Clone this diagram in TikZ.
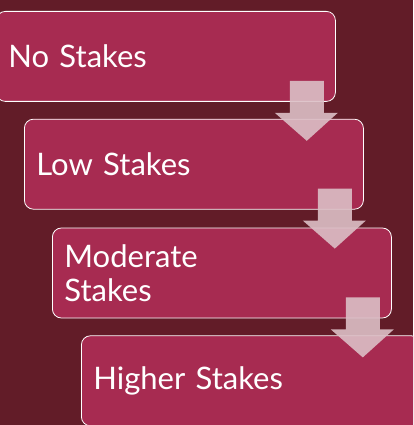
\documentclass[tikz,border=0pt]{standalone}
\usepackage{fontspec}
\setmainfont{Lato}
\usetikzlibrary{positioning}
\definecolor{backcol}{HTML}{621C28}
\definecolor{stakecol}{HTML}{A72B51}
\definecolor{arrowcol}{HTML}{DCBFC6}
\tikzset{
  stake/.style={rectangle, rounded corners=9pt, draw=white, line width=0.8pt,
    fill=stakecol, text=white, minimum width=339pt, minimum height=90pt,
    text width=315pt, inner xsep=12pt, align=left, font=\fontsize{31}{34}\selectfont},
  downarrow/.style={fill=arrowcol, fill opacity=0.9}
}
\begin{document}
\begin{tikzpicture}[x=1pt, y=-1pt]
\useasboundingbox (0,0) rectangle (413,425);
\fill[backcol] (0,0) rectangle (413,425);
\clip (0,0) rectangle (413,425);

\node[stake, anchor=north west] (no) at (-4,11) {No Stakes};
\node[stake, below right=17pt and 28pt of no.south west] (low) {Low Stakes};
\node[stake, below right=18pt and 28pt of low.south west] (moderate) {Moderate\\Stakes};
\node[stake, below right=17pt and 29pt of moderate.south west] (higher) {Higher Stakes};

\foreach \from in {no, low, moderate}
  \fill[downarrow, shift={(\from.south east)}]
    (-46,-21) -- (-12,-21) -- (-12,11) -- (2,11) -- (-29,39) -- (-61,11) -- (-46,11) -- cycle;
\end{tikzpicture}
\end{document}
